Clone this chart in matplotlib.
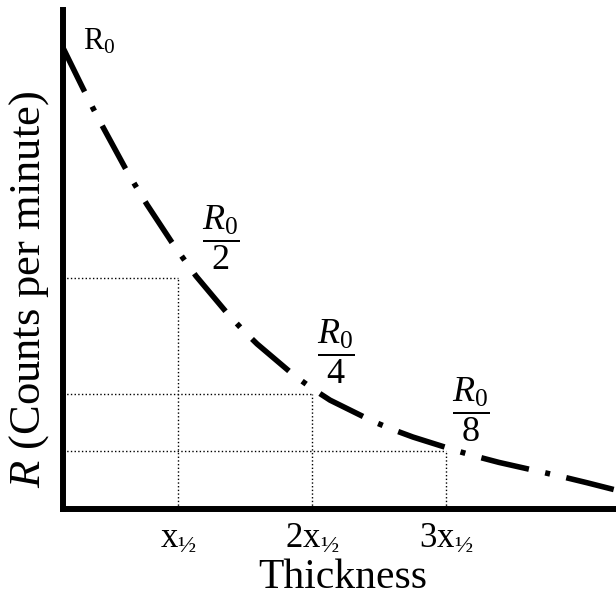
import matplotlib
matplotlib.use("Agg")
import matplotlib.pyplot as plt

plt.rcParams['font.family'] = ['Liberation Serif', 'DejaVu Serif']
plt.rcParams['mathtext.fontset'] = 'custom'
plt.rcParams['mathtext.rm'] = 'Liberation Serif'
plt.rcParams['mathtext.it'] = 'Liberation Serif:italic'

# 曲线读数 (厚度, R/R0)
thickness = [0.0, 0.149, 0.224, 0.291, 0.463, 0.537, 0.627, 0.813, 0.896, 0.993,
             1.224, 1.336, 1.448, 1.724, 1.866, 1.993, 2.313, 2.463, 2.612, 2.940,
             3.097, 3.254, 3.590, 3.754, 3.910, 4.127]
counts = [1.0, 0.912, 0.869, 0.832, 0.740, 0.703, 0.660, 0.578, 0.544, 0.505,
          0.425, 0.390, 0.358, 0.290, 0.260, 0.236, 0.190, 0.172, 0.156, 0.126,
          0.113, 0.101, 0.079, 0.068, 0.057, 0.041]

# 半值层
half_thick = [0.86, 1.86, 2.86]
half_counts = [0.5, 0.25, 0.125]
half_ticks = [r'x$_{½}$', r'2x$_{½}$', r'3x$_{½}$']
half_labels = [r'$\dfrac{R_0}{2}$', r'$\dfrac{R_0}{4}$', r'$\dfrac{R_0}{8}$']
label_pos = [(1.179, 0.588), (2.037, 0.341), (3.045, 0.215)]

fig = plt.figure(figsize=(6.16, 5.94), dpi=100)
ax = fig.add_axes([63 / 616, 85 / 594, 553 / 616, 499 / 594])

ax.plot(thickness, counts, color='black', linewidth=4.0,
        linestyle=(0, (8.8, 3.0, 0.9, 3.0)), dash_capstyle='butt', zorder=3)

# 虚线辅助线
ax.vlines(half_thick, 0, half_counts, colors='black', linestyles=':', linewidth=1.0, zorder=1)
ax.hlines(half_counts, 0, half_thick, colors='black', linestyles=':', linewidth=1.0, zorder=1)

ax.text(0.149, 0.996, r'$\mathrm{R}_0$', fontsize=22, va='baseline', ha='left')
for (tx, ty), lab in zip(label_pos, half_labels):
    ax.text(tx, ty, lab, fontsize=26, ha='center', va='center')

ax.set_xlim(0, 4.127)
ax.set_ylim(0, 1.082)
ax.set_xticks(half_thick)
ax.set_xticklabels(half_ticks, fontsize=25)
ax.tick_params(axis='x', length=0, pad=10)
ax.set_yticks([])

for s in ['top', 'right']:
    ax.spines[s].set_visible(False)
for s in ['left', 'bottom']:
    ax.spines[s].set_linewidth(4.3)
    ax.spines[s].set_capstyle('projecting')

ax.set_xlabel('Thickness', fontsize=30)
ax.xaxis.set_label_coords(0.505, -0.099)
ax.set_ylabel(r'$R$ (Counts per minute)', fontsize=32)
ax.yaxis.set_label_coords(-0.022, 0.44)

plt.savefig('out.png', dpi=100)
